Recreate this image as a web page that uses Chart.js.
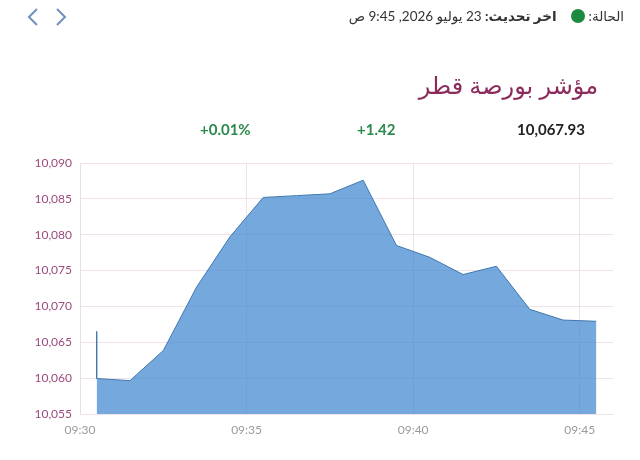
<!DOCTYPE html>
<html>
<head>
<meta charset="utf-8">
<script src="https://cdn.jsdelivr.net/npm/chart.js@4.4.1/dist/chart.umd.min.js"></script>
<style>
  body { margin: 0; background: #fff; font-family: Lato, "DejaVu Sans", sans-serif; }
  #wrap { position: relative; width: 640px; height: 460px; overflow: hidden; }
  #c { position: absolute; left: 0; top: 0; }
  .abs { position: absolute; white-space: nowrap; }
  #status { right: 16px; top: 8px; direction: rtl; font-size: 13.5px; color: #333; }
  #status .dot { display: inline-block; width: 14px; height: 14px; border-radius: 50%; background: #1c8a3f; vertical-align: -2px; margin: 0 4px 0 14px; }
  #status b { font-weight: bold; }
  #title { right: 42px; top: 70px; font-size: 24px; color: #8c2a5c; direction: rtl; }
  .num { top: 120px; font-size: 15px; font-weight: bold; }
  #last { right: 55px; color: #222; }
  #chg { left: 357px; color: #2b8a4c; }
  #pct { left: 200px; color: #2b8a4c; }
</style>
</head>
<body>
<div id="wrap">
  <canvas id="c" width="640" height="460"></canvas>
  <svg class="abs" style="left:26px;top:6px" width="50" height="22">
    <polyline points="11,3 3,11 11,19" fill="none" stroke="#6f90bd" stroke-width="2"/>
    <polyline points="31,3 39,11 31,19" fill="none" stroke="#6f90bd" stroke-width="2"/>
  </svg>
  <div id="status" class="abs">الحالة:<span class="dot"></span><b>اخر تحديث:</b> 23 يوليو 2026, 9:45 ص</div>
  <div id="title" class="abs">مؤشر بورصة قطر</div>
  <div id="last" class="abs num">10,067.93</div>
  <div id="chg" class="abs num">+1.42</div>
  <div id="pct" class="abs num">+0.01%</div>
</div>
<script>
  // minutes after 09:30
  const times = [0.5, 0.5, 1.5, 2.5, 3.5, 4.5, 5.5, 6.5, 7.5, 8.5, 9.5, 10.5, 11.5, 12.5, 13.5, 14.5, 15.5];
  const values = [10066.5, 10059.95, 10059.65, 10063.85, 10072.7, 10079.7, 10085.2, 10085.45, 10085.7, 10087.6, 10078.5, 10076.85, 10074.45, 10075.6, 10069.6, 10068.1, 10067.93];
  const xTicks = [0, 5, 10, 15];
  const yTicks = [10055, 10060, 10065, 10070, 10075, 10080, 10085, 10090];

  const points = times.map((t, i) => ({ x: t, y: values[i] }));
  const fmtTime = m => {
    const total = 9 * 60 + 30 + m;
    const h = Math.floor(total / 60), mm = total % 60;
    return String(h).padStart(2, '0') + ':' + String(mm).padStart(2, '0');
  };
  const gridCol = '#efe3e8';

  new Chart(document.getElementById('c'), {
    type: 'line',
    data: {
      datasets: [{
        data: points,
        fill: 'start',
        backgroundColor: 'rgba(45,125,205,0.66)',
        borderColor: '#3f78b0',
        borderWidth: 1,
        pointRadius: 0,
        tension: 0
      }]
    },
    options: {
      responsive: false,
      animation: false,
      layout: { padding: { left: 0, top: 163, right: 27, bottom: 0 } },
      plugins: { legend: { display: false }, tooltip: { enabled: false } },
      scales: {
        x: {
          type: 'linear',
          min: 0,
          max: 16,
          afterBuildTicks: s => { s.ticks = xTicks.map(v => ({ value: v })); },
          afterFit: s => { s.height = 46; },
          ticks: { callback: v => fmtTime(v), color: '#9a9a9a', font: { family: 'Lato', size: 12 }, padding: 9, maxRotation: 0 },
          grid: { color: gridCol, drawTicks: false },
          border: { color: gridCol }
        },
        y: {
          min: 10055,
          max: 10090,
          afterBuildTicks: s => { s.ticks = yTicks.map(v => ({ value: v })); },
          afterFit: s => { s.width = 80; },
          ticks: { callback: v => v.toLocaleString('en-US'), color: '#9b4a7c', font: { family: 'Lato', size: 12 }, padding: 8 },
          grid: { color: gridCol, drawTicks: false },
          border: { color: '#e2e2e2' }
        }
      }
    }
  });
</script>
</body>
</html>
